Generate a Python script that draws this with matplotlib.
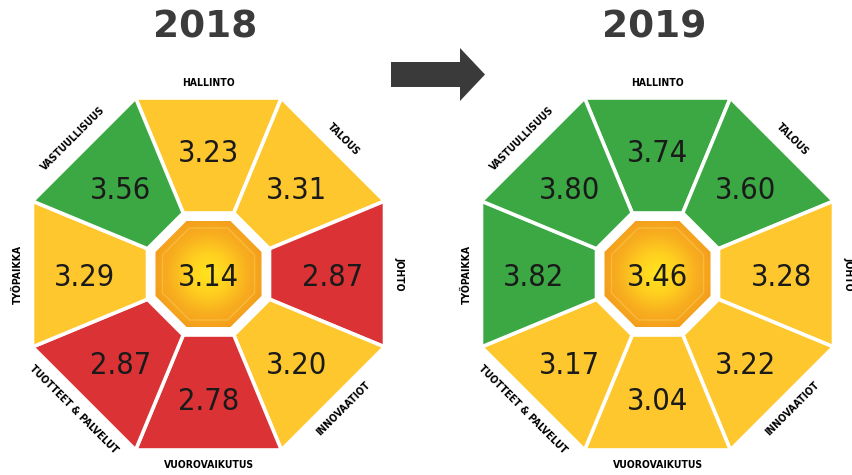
import numpy as np
import matplotlib
matplotlib.use("Agg")
import matplotlib.pyplot as plt
from matplotlib.patches import Polygon, FancyArrow
from matplotlib.colors import LinearSegmentedColormap

# ---------------- data ----------------
categories = ['HALLINTO', 'TALOUS', 'JOHTO', 'INNOVAATIOT', 'VUOROVAIKUTUS',
              'TUOTTEET & PALVELUT', 'TYÖPAIKKA', 'VASTUULLISUUS']
values_2018 = [3.23, 3.31, 2.87, 3.20, 2.78, 2.87, 3.29, 3.56]
values_2019 = [3.74, 3.60, 3.28, 3.22, 3.04, 3.17, 3.82, 3.80]
center_2018 = 3.14
center_2019 = 3.46
years = ['2018', '2019']

# ---------------- style ----------------
GREEN = '#3ba843'
YELLOW = '#fec72e'
RED = '#db3236'
TXT = '#1a1a1a'
TITLE = '#3b3b3b'

R_OUT, R_IN, R_CEN = 176, 61, 53
R_LAB, R_VAL = 191, 124
C22 = np.cos(np.radians(22.5))
NUM_SIZE = 22


def colour(v):
    if v >= 3.5:
        return GREEN
    if v < 3.0:
        return RED
    return YELLOW


def pt(cx, cy, phi_deg, r):
    p = np.radians(phi_deg)
    return (cx + r * np.sin(p), cy - r * np.cos(p))


def rot(phi):
    if phi <= 90:
        return -phi
    if phi < 270:
        return 180 - phi
    return 360 - phi


cmap = LinearSegmentedColormap.from_list('c', ['#ffe41e', '#ffd020', '#f8ae1f', '#f39a1c'])


def draw(ax, cx, cy, vals, cval):
    for k, (cat, v) in enumerate(zip(categories, vals)):
        phi = k * 45
        a, b = phi - 22.5, phi + 22.5
        poly = [pt(cx, cy, a, R_OUT / C22), pt(cx, cy, b, R_OUT / C22),
                pt(cx, cy, b, R_IN / C22), pt(cx, cy, a, R_IN / C22)]
        ax.add_patch(Polygon(poly, closed=True, facecolor=colour(v),
                             edgecolor='white', linewidth=2.6, joinstyle='miter'))
        vx, vy = pt(cx, cy, phi, R_VAL)
        ax.text(vx, vy + 4, f'{v:.2f}', ha='center', va='center', fontsize=NUM_SIZE,
                family='DejaVu Sans', fontstretch='condensed', color=TXT)
        lx, ly = pt(cx, cy, phi, R_LAB)
        ax.text(lx, ly, cat, ha='center', va='center', rotation=rot(phi),
                rotation_mode='anchor', fontsize=7.5, fontweight='bold',
                family='DejaVu Sans', fontstretch='condensed', color='black')
    # center octagon with radial gradient
    cpoly = [pt(cx, cy, k * 45 + 22.5, R_CEN / C22) for k in range(8)]
    patch = Polygon(cpoly, closed=True, facecolor='none', edgecolor='none')
    ax.add_patch(patch)
    n = 200
    xs = np.linspace(-1, 1, n)
    X, Y = np.meshgrid(xs, xs)
    Z = np.clip(np.sqrt(X ** 2 + Y ** 2) / 1.05, 0, 1)
    rr = R_CEN / C22
    im = ax.imshow(Z, cmap=cmap, extent=(cx - rr, cx + rr, cy + rr, cy - rr),
                   origin='upper', vmin=0, vmax=1, zorder=2, interpolation='bilinear')
    im.set_clip_path(patch)
    # bevel highlight
    bpoly = [pt(cx, cy, k * 45 + 22.5, (R_CEN - 7) / C22) for k in range(8)]
    ax.add_patch(Polygon(bpoly, closed=True, facecolor='none', edgecolor='#ffe680',
                         linewidth=1.0, alpha=0.3, zorder=3))
    ax.text(cx, cy + 4, f'{cval:.2f}', ha='center', va='center', fontsize=NUM_SIZE,
            family='DejaVu Sans', fontstretch='condensed', color=TXT, zorder=4)


fig = plt.figure(figsize=(8.53, 4.75), dpi=100)
ax = fig.add_axes([0, 0, 1, 1])
ax.set_xlim(0, 853)
ax.set_ylim(475, 0)
ax.axis('off')

centers = [(208.5, 274), (657.5, 274)]
draw(ax, *centers[0], values_2018, center_2018)
draw(ax, *centers[1], values_2019, center_2019)

for (cx, _), yr in zip(centers, years):
    ax.text(cx - 3, 28, yr, ha='center', va='center', fontsize=27,
            fontweight='bold', family='DejaVu Sans', color=TITLE)

ax.add_patch(FancyArrow(391, 74.5, 94, 0, width=25, head_width=53, head_length=25,
                        length_includes_head=True, facecolor='#3a3a3a',
                        edgecolor='none'))

fig.savefig('out.png', dpi=100)
